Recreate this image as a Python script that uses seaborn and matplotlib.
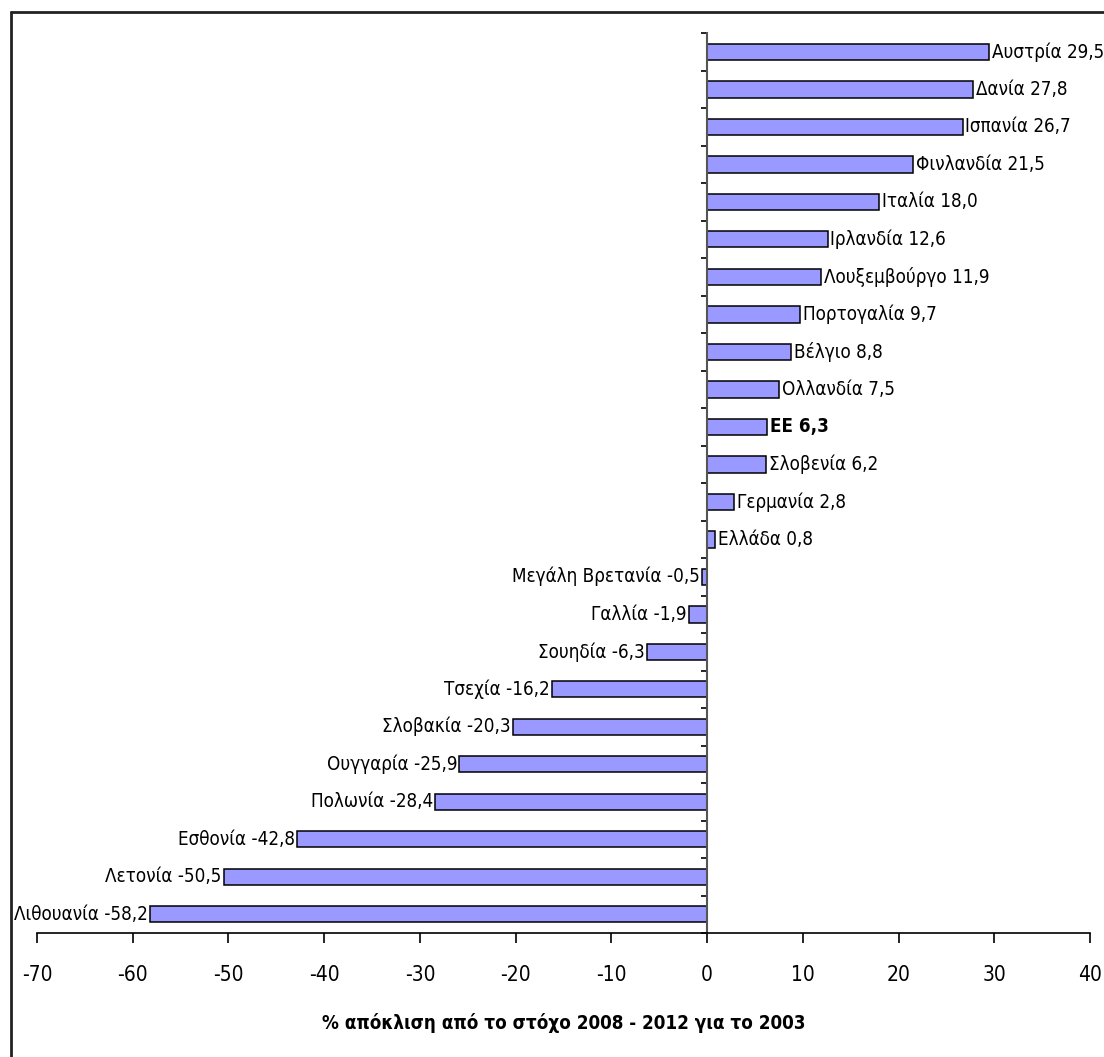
import pandas as pd
import matplotlib
matplotlib.use("Agg")
import matplotlib.pyplot as plt
from matplotlib.lines import Line2D
import seaborn as sns

countries = [
    "Αυστρία", "Δανία", "Ισπανία", "Φινλανδία", "Ιταλία", "Ιρλανδία",
    "Λουξεμβούργο", "Πορτογαλία", "Βέλγιο", "Ολλανδία", "ΕΕ", "Σλοβενία",
    "Γερμανία", "Ελλάδα", "Μεγάλη Βρετανία", "Γαλλία", "Σουηδία", "Τσεχία",
    "Σλοβακία", "Ουγγαρία", "Πολωνία", "Εσθονία", "Λετονία", "Λιθουανία",
]
values = [
    29.5, 27.8, 26.7, 21.5, 18.0, 12.6, 11.9, 9.7, 8.8, 7.5, 6.3, 6.2,
    2.8, 0.8, -0.5, -1.9, -6.3, -16.2, -20.3, -25.9, -28.4, -42.8, -50.5, -58.2,
]
highlight = "ΕΕ"
xticks = list(range(-70, 41, 10))
xlabel = "% απόκλιση από το στόχο 2008 - 2012 για το 2003"

df = pd.DataFrame({"country": countries, "value": values})

sns.set_style("white")
plt.rcParams["font.family"] = ["DejaVu Sans"]
plt.rcParams["font.stretch"] = "condensed"
plt.rcParams["text.color"] = "black"
plt.rcParams["xtick.color"] = "black"
plt.rcParams["axes.labelcolor"] = "black"

fig = plt.figure(figsize=(11.04, 10.57), dpi=100)
ax = fig.add_axes([37 / 1104, 1 - 933 / 1057, (1090 - 37) / 1104, (933 - 33) / 1057])

sns.barplot(data=df, x="value", y="country", orient="h", color="#9999FF",
            saturation=1, edgecolor="black", linewidth=1.1, width=0.44, ax=ax)

# value labels next to bars
for i, (name, v) in enumerate(zip(countries, values)):
    txt = f"{name} {v:.1f}".replace(".", ",")
    ax.annotate(txt, (v, i), xytext=(2 if v >= 0 else -1.5, 0), textcoords="offset points",
                ha="left" if v >= 0 else "right", va="center", fontsize=13.5,
                fontweight="bold" if name == highlight else "normal")

ax.set_xlim(-70, 40)
ax.set_ylim(len(countries) - 0.5, -0.5)
ax.set_xticks(xticks)
ax.set_xticklabels([str(t) for t in xticks], fontsize=15)
ax.set_yticks([i - 0.5 for i in range(len(countries) + 1)])
ax.set_yticklabels([])
ax.set_ylabel("")
ax.set_xlabel(xlabel, fontsize=13.5, fontweight="bold", labelpad=20)

for s in ["top", "right"]:
    ax.spines[s].set_visible(False)
ax.spines["left"].set_position(("data", 0))
ax.spines["left"].set_color("#555555")
ax.spines["left"].set_linewidth(1.5)
ax.spines["bottom"].set_color("black")
ax.spines["bottom"].set_linewidth(1.2)
ax.tick_params(axis="x", direction="out", length=7, width=1.2, color="black", pad=16, bottom=True)
ax.tick_params(axis="y", direction="out", length=4, width=1.2, color="black", left=True)

# outer frame (top and left edges only)
fig.add_artist(Line2D([11 / 1104, 1], [1 - 12 / 1057, 1 - 12 / 1057], transform=fig.transFigure, color="#222222", lw=2))
fig.add_artist(Line2D([11 / 1104, 11 / 1104], [0, 1 - 12 / 1057], transform=fig.transFigure, color="#222222", lw=2))

fig.savefig("out.png", dpi=100)
